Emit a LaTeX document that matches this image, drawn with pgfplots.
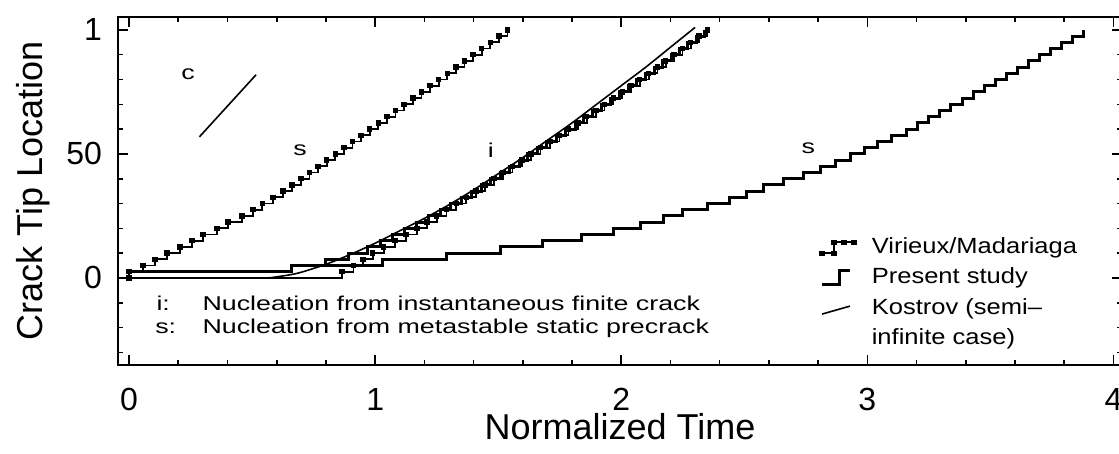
\documentclass[border=0pt]{standalone}
\usepackage{pgfplots}
\pgfplotsset{compat=1.18}
\usepackage{fontspec}
\setmainfont{Liberation Sans}
\newfontfamily\anfont[FakeStretch=1.34]{Liberation Sans}
\newfontfamily\lgfont[FakeStretch=1.16]{Liberation Sans}
\pgfplotsset{
 vir/.style={black, line width=0.9pt, mark=square*, mark size=0.9pt, mark options={solid}},
 pres/.style={black, line width=1.5pt},
 kos/.style={black, line width=0.8pt},
 virleg/.style={vir, legend image code/.code={\draw[##1] plot coordinates {(0pt,-3pt) (6pt,-3pt) (6pt,2.5pt) (11pt,2.5pt) (16pt,2.5pt)};}},
 presleg/.style={pres, legend image code/.code={\draw[##1] (0pt,-3.5pt) -- (8.5pt,-3.5pt) -- (8.5pt,3.5pt) -- (14pt,3.5pt);}},
 kosleg/.style={kos, legend image code/.code={\draw[##1] (0pt,-3pt) -- (14pt,1pt);}},
}
\tikzset{ann/.style={font=\anfont\fontsize{10}{12}\selectfont, inner sep=0pt}}
\begin{document}
\begin{tikzpicture}
\useasboundingbox (0pt,0pt) rectangle (559.5pt,227pt);
\clip (0pt,0pt) rectangle (559.5pt,227pt);
\begin{axis}[
 at={(59pt,44.5pt)}, anchor=south west,
 width=502pt, height=174pt, scale only axis,
 xmin=-0.045, xmax=4.035, ymin=-35.1, ymax=105.2,
 clip=false,
 xtick={0,1,2,3,4},
 minor xtick={0.2,0.4,0.6,0.8,1.2,1.4,1.6,1.8,2.2,2.4,2.6,2.8,3.2,3.4,3.6,3.8},
 ytick={0,50,100}, yticklabels={0,50,1},
 minor ytick={-30,-20,-10,10,20,30,40,60,70,80,90},
 tick align=inside,
 major tick length=5pt, minor tick length=2.5pt,
 every tick/.style={black, line width=0.8pt},
 axis line style={line width=1.2pt},
 /pgf/number format/assume math mode=true,
 ticklabel style={font=\fontsize{16}{18}\selectfont},
 xticklabel style={yshift=-8pt},
 yticklabel style={xshift=-4.5pt},
 every axis x label/.style={at={(axis description cs:0.5,-0.2155)}, anchor=base, font=\fontsize{18}{21}\selectfont},
 every axis y label/.style={at={(axis description cs:-0.0747,0.5)}, rotate=90, anchor=base, font=\fontsize{18}{21}\selectfont},
 xlabel={Normalized Time},
 ylabel={Crack Tip Location},
 legend style={draw=none, fill=none, at={(axis description cs:0.699,0.383)}, anchor=north west,
   font=\lgfont\fontsize{11}{13}\selectfont, row sep=0pt, column sep=6pt, inner sep=0pt,
   nodes={text height=8.7pt, text depth=2.5pt, inner sep=2pt}},
 legend cell align=left,
]
% Virieux/Madariaga, s
\addplot[vir, const plot, forget plot] coordinates {
(0,0) (0,2.5) (0.057,5) (0.106,7.5) (0.154,10) (0.207,12.5) (0.256,15) (0.301,17.5) (0.358,20) (0.402,22.5) (0.459,25) (0.504,27.5) (0.541,30) (0.585,32.5) (0.625,35) (0.662,37.5) (0.698,40) (0.733,42.5) (0.768,45) (0.803,47.5) (0.838,50) (0.873,52.5) (0.908,55) (0.943,57.5) (0.978,60) (1.013,62.5) (1.048,65) (1.083,67.5) (1.118,70) (1.153,72.5) (1.188,75) (1.223,77.5) (1.258,80) (1.293,82.5) (1.328,85) (1.363,87.5) (1.398,90) (1.433,92.5) (1.468,95) (1.503,97.5) (1.538,100)
};
% Present study, s
\addplot[pres, const plot, forget plot] coordinates {
(0,2.5) (0.66,5) (1.03,7.5) (1.29,10) (1.51,12.5) (1.68,15) (1.84,17.5) (1.97,20) (2.08,22.5) (2.17,25) (2.25,27.5) (2.35,30) (2.44,32.5) (2.51,35) (2.58,37.5) (2.66,40) (2.74,42.5) (2.81,45) (2.87,47.5) (2.93,50) (2.99,52.5) (3.04,55) (3.10,57.5) (3.16,60) (3.205,62.5) (3.25,65) (3.295,67.5) (3.34,70) (3.385,72.5) (3.43,75) (3.475,77.5) (3.52,80) (3.565,82.5) (3.61,85) (3.655,87.5) (3.70,90) (3.745,92.5) (3.79,95) (3.835,97.5) (3.88,100)
};
% Present study, i
\addplot[pres, const plot, forget plot] coordinates {
(0,2.5) (0.66,5) (0.80,7.5) (0.89,10) (0.967,12.5) (1.02,15) (1.07,17.5) (1.12,20) (1.17,22.5) (1.218,25) (1.264,27.5) (1.308,30) (1.35,32.5) (1.392,35) (1.431,37.5) (1.469,40) (1.508,42.5) (1.546,45) (1.585,47.5) (1.621,50) (1.66,52.5) (1.698,55) (1.737,57.5) (1.774,60) (1.813,62.5) (1.848,65) (1.885,67.5) (1.92,70) (1.956,72.5) (1.992,75) (2.028,77.5) (2.063,80) (2.10,82.5) (2.135,85) (2.169,87.5) (2.203,90) (2.237,92.5) (2.27,95) (2.304,97.5) (2.338,100)
};
% Virieux/Madariaga, i
\addplot[vir, const plot, forget plot] coordinates {
(0,0) (0.866,2.5) (0.912,5) (0.95,7.5) (0.99,10) (1.035,12.5) (1.08,15) (1.125,17.5) (1.17,20) (1.21,22.5) (1.25,25) (1.29,27.5) (1.33,30) (1.37,32.5) (1.41,35) (1.447,37.5) (1.483,40) (1.52,42.5) (1.558,45) (1.597,47.5) (1.633,50) (1.672,52.5) (1.71,55) (1.749,57.5) (1.786,60) (1.825,62.5) (1.86,65) (1.897,67.5) (1.932,70) (1.968,72.5) (2.004,75) (2.04,77.5) (2.075,80) (2.112,82.5) (2.147,85) (2.181,87.5) (2.215,90) (2.249,92.5) (2.282,95) (2.316,97.5) (2.35,100)
};
% Kostrov
\addplot[kos, smooth, forget plot] coordinates {
(0.57,0) (0.65,1.2) (0.7,2.3) (0.8,5.5) (0.9,9.5) (1.0,14) (1.1,19) (1.2,24) (1.3,29.5) (1.4,35.5) (1.5,42) (1.6,48.5) (1.7,55.5) (1.8,62.5) (1.9,70) (2.0,77.5) (2.1,85) (2.2,93) (2.3,101)
};
% wave speed c
\addplot[kos, forget plot] coordinates {(0.286,56.9) (0.516,81.9)};

\node[ann] at (axis cs:0.24,82) {c};
\node[ann] at (axis cs:0.695,51.6) {s};
\node[ann] at (axis cs:1.47,51.6) {i};
\node[ann] at (axis cs:2.76,52.4) {s};

\node[ann, anchor=base west] at (axis cs:0.11,-13.2) {i:};
\node[ann, anchor=base west] at (axis cs:0.297,-13.2) {Nucleation from instantaneous finite crack};
\node[ann, anchor=base west] at (axis cs:0.105,-22.5) {s:};
\node[ann, anchor=base west] at (axis cs:0.297,-22.5) {Nucleation from metastable static precrack};

\addlegendimage{virleg}
\addlegendentry{Virieux/Madariaga}
\addlegendimage{presleg}
\addlegendentry{Present study}
\addlegendimage{kosleg}
\addlegendentry{Kostrov (semi–}
\addlegendimage{empty legend}
\addlegendentry{infinite case)}
\end{axis}
\end{tikzpicture}
\end{document}
